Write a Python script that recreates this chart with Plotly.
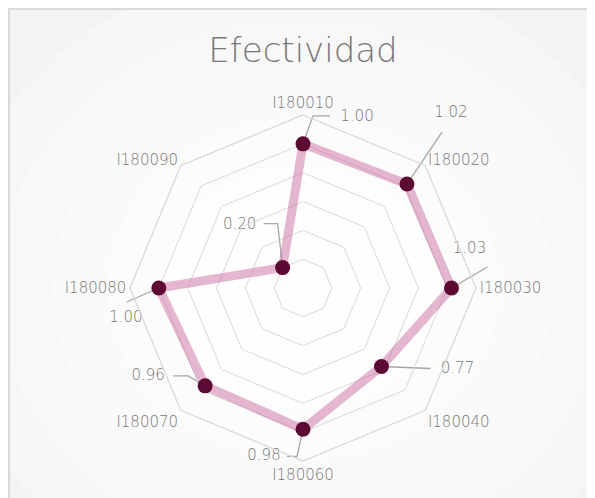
import math
import plotly.graph_objects as go

categories = ['I180010', 'I180020', 'I180030', 'I180040',
              'I180060', 'I180070', 'I180080', 'I180090']
efectividad = [1.00, 1.02, 1.03, 0.77, 0.98, 0.96, 1.00, 0.20]
value_labels = ['1.00', '1.02', '1.03', '0.77', '0.98', '0.96', '1.00', '0.20']

W, H = 595, 498
CX, CY = 295, 280          # centre of the radar in figure px
R_PX = 173                 # outer ring radius in px
RMAX = 1.2
TXT = '#777777'
FONT = 'DejaVu Sans'

# leader line / label offsets in px from each point (x right, y up)
leaders = [
    [(10, 28), (27, 28)],
    [(35, 52)],
    [(36, 21)],
    [(49, -2)],
    [(-6, -27), (-16, -27)],
    [(-17, 10), (-32, 10)],
    [(-32, -14)],
    [(-5, 44), (-19, 44)],
]
label_off = [(54, 27), (44, 71), (18, 39), (76, -3),
             (-39, -27), (-57, 10), (-33, -30), (-43, 42)]

px_per_unit = R_PX / RMAX
step = 360 / len(categories)

fig = go.Figure()

# radar line + markers
fig.add_trace(go.Scatterpolar(
    r=efectividad + efectividad[:1], theta=categories + categories[:1],
    mode='lines', line=dict(color='rgba(200,95,150,0.45)', width=9),
    hoverinfo='skip'))
fig.add_trace(go.Scatterpolar(
    r=efectividad, theta=categories, mode='markers',
    marker=dict(color='#5c0a33', size=15)))

# leader lines and value labels on a px-unit cartesian overlay centred on the radar
for i, v in enumerate(efectividad):
    a = math.radians(i * step)
    px = v * px_per_unit * math.sin(a)
    py = v * px_per_unit * math.cos(a)
    xs = [px] + [px + dx for dx, dy in leaders[i]]
    ys = [py] + [py + dy for dx, dy in leaders[i]]
    fig.add_trace(go.Scatter(x=xs, y=ys, mode='lines',
                             line=dict(color='#a6a6a6', width=1.3),
                             hoverinfo='skip', cliponaxis=False))
    fig.add_trace(go.Scatter(
        x=[px + label_off[i][0]], y=[py + label_off[i][1]], mode='text',
        text=[value_labels[i]], cliponaxis=False, hoverinfo='skip',
        textfont=dict(color=TXT, size=15, family=FONT, weight=200)))

dom_x = [(CX - R_PX) / W, (CX + R_PX) / W]
dom_y = [(H - CY - R_PX) / H, (H - CY + R_PX) / H]

fig.update_layout(
    width=W, height=H, margin=dict(l=0, r=0, t=0, b=0),
    paper_bgcolor='#f3f3f3', plot_bgcolor='rgba(0,0,0,0)', showlegend=False,
    font=dict(family=FONT, color=TXT),
    title=dict(text='Efectividad', x=CX / W, xanchor='center', y=1 - 42 / H,
               yanchor='middle',
               font=dict(size=34, color=TXT, family=FONT, weight=200)),
    xaxis=dict(range=[-CX, W - CX], visible=False, fixedrange=True),
    yaxis=dict(range=[-(H - CY), CY], visible=False, fixedrange=True),
    polar=dict(
        domain=dict(x=dom_x, y=dom_y), gridshape='linear', bgcolor='rgba(0,0,0,0)',
        radialaxis=dict(range=[0, RMAX], dtick=0.2, showticklabels=False, ticks='',
                        showline=False, gridcolor='#d9d9d9', gridwidth=1.3),
        angularaxis=dict(rotation=90, direction='clockwise', showgrid=False,
                         showline=True, linecolor='#d9d9d9', linewidth=1.3, ticks='',
                         tickfont=dict(size=15, color=TXT, family=FONT, weight=200)),
    ),
)

# soft radial shading and a border round the chart area
shapes = []
for k, col in enumerate(['#f6f6f6', '#f8f8f8', '#fafafa', '#fcfcfc', '#fefefe']):
    rx = 360 - k * 55
    ry = 320 - k * 50
    shapes.append(dict(type='circle', xref='paper', yref='paper',
                       x0=(CX - rx) / W, x1=(CX + rx) / W,
                       y0=(H - CY - ry) / H, y1=(H - CY + ry) / H,
                       fillcolor=col, line=dict(width=0), layer='below'))
shapes.append(dict(type='rect', xref='paper', yref='paper', x0=1 / W, x1=1.2,
                   y0=-0.2, y1=1 - 1 / H, fillcolor='rgba(0,0,0,0)',
                   line=dict(color='#d9d9d9', width=2), layer='below'))
fig.update_layout(shapes=shapes)

fig.write_html('out.html')
